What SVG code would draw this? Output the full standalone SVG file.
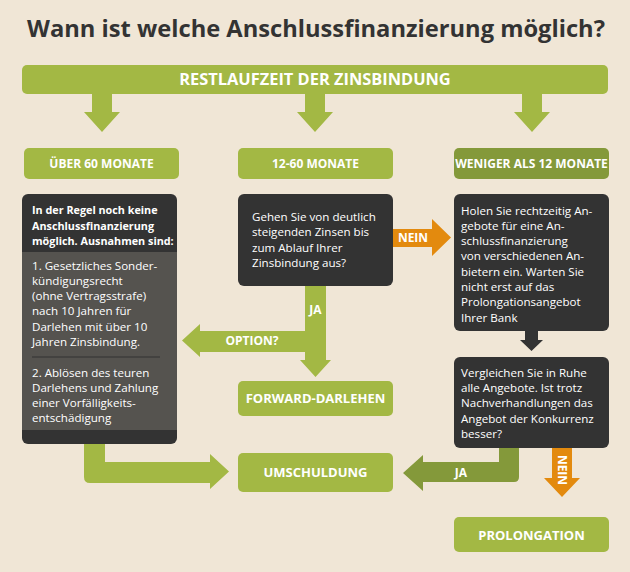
<svg xmlns="http://www.w3.org/2000/svg" width="630" height="572" viewBox="0 0 630 572">
<style>
.title{font-family:"Open Sans","Liberation Sans",sans-serif;font-weight:bold;font-size:23.7px;fill:#333333}
.hd{font-family:"Open Sans","Liberation Sans",sans-serif;font-weight:bold;font-size:12px;fill:#ffffff;text-anchor:middle}
.big{font-family:"Open Sans","Liberation Sans",sans-serif;font-weight:bold;font-size:13px;fill:#ffffff;text-anchor:middle}
.bar{font-family:"Open Sans","Liberation Sans",sans-serif;font-weight:bold;font-size:16.4px;fill:#ffffff;text-anchor:middle}
.bd{font-family:"Open Sans","Liberation Sans",sans-serif;font-size:11.6px;fill:#ffffff}
.bdb{font-family:"Open Sans","Liberation Sans",sans-serif;font-weight:bold;font-size:10.8px;fill:#ffffff}
.lbl{font-family:"Open Sans","Liberation Sans",sans-serif;font-weight:bold;font-size:12px;fill:#ffffff;text-anchor:middle}
.g{fill:#a3b844}
.dg{fill:#84993a}
.dk{fill:#333333}
.or{fill:#e38a0e}
</style>
<rect width="630" height="572" fill="#f0e6d6"/>
<text class="title" x="316" y="37" text-anchor="middle">Wann ist welche Anschlussfinanzierung möglich?</text>

<g id="connectors">
  <polygon class="g" points="92,92 112,92 112,112 120,112 102,132 84,112 92,112"/>
  <polygon class="g" points="305,92 325,92 325,112 333,112 315,132 297,112 305,112"/>
  <polygon class="g" points="522,92 542,92 542,112 550,112 532,132 514,112 522,112"/>
  <polygon class="or" points="393,229 432,229 432,219 451,237.5 432,256 432,247 393,247"/>
  <text class="lbl" x="413" y="242">NEIN</text>
  <polygon class="g" points="305,286 326,286 326,360 331,360 315.5,377 300,360 305,360 305,352 200,352 200,357 182,340.5 200,324 200,331 305,331"/>
  <text class="lbl" x="315.5" y="314">JA</text>
  <text class="lbl" x="252" y="345">OPTION?</text>
  <polygon class="dk" points="525,330 538,330 538,340 543,340 531.5,351 520,340 525,340"/>
  <path class="dg" d="M499,447 L519,447 L519,477 Q519,482 514,482 L423,482 L423,491 L403,473 L423,455 L423,462 L499,462 Z"/>
  <text class="lbl" x="461" y="477">JA</text>
  <polygon class="or" points="552,447 572,447 572,478 580,478 562,497 544,478 552,478"/>
  <text class="lbl" transform="translate(562,470) rotate(90)" x="0" y="4">NEIN</text>
  <path class="g" d="M84,443 L105,443 L105,462 L210,462 L210,454 L229,471.5 L210,489 L210,483 L90,483 Q84,483 84,477 Z"/>
</g>

<g id="bar">
  <rect class="g" x="22" y="65" width="586" height="29" rx="5"/>
  <text class="bar" x="315" y="85">RESTLAUFZEIT DER ZINSBINDUNG</text>
</g>

<g id="h-ueber60">
  <rect class="g" x="24" y="148" width="155" height="31" rx="5"/>
  <text class="hd" x="101.5" y="168">ÜBER 60 MONATE</text>
</g>
<g id="h-12-60">
  <rect class="g" x="238" y="148" width="155" height="31" rx="5"/>
  <text class="hd" x="315.5" y="168">12-60 MONATE</text>
</g>
<g id="h-weniger12">
  <rect class="dg" x="454" y="148" width="155" height="31" rx="5"/>
  <text class="hd" x="531.5" y="168">WENIGER ALS 12 MONATE</text>
</g>

<g id="left-box">
  <rect class="dk" x="22" y="194" width="155" height="250" rx="6"/>
  <rect x="22" y="252" width="155" height="178" fill="#55534f"/>
  <line x1="32" y1="357" x2="160" y2="357" stroke="#333333" stroke-width="1"/>
  <text class="bdb" x="32" y="214">In der Regel noch keine</text>
  <text class="bdb" x="32" y="229.5">Anschlussfinanzierung</text>
  <text class="bdb" x="32" y="245">möglich. Ausnahmen sind:</text>
  <text class="bd" x="32" y="269.5">1. Gesetzliches Sonder-</text>
  <text class="bd" x="32" y="284.8">kündigungsrecht</text>
  <text class="bd" x="32" y="300.1">(ohne Vertragsstrafe)</text>
  <text class="bd" x="32" y="315.4">nach 10 Jahren für</text>
  <text class="bd" x="32" y="330.7">Darlehen mit über 10</text>
  <text class="bd" x="32" y="346">Jahren Zinsbindung.</text>
  <text class="bd" x="32" y="376.5">2. Ablösen des teuren</text>
  <text class="bd" x="32" y="391.8">Darlehens und Zahlung</text>
  <text class="bd" x="32" y="407.1">einer Vorfälligkeits-</text>
  <text class="bd" x="32" y="422.4">entschädigung</text>
</g>

<g id="mid-box">
  <rect class="dk" x="238" y="194" width="155" height="92" rx="6"/>
  <text class="bd" x="252" y="220.5">Gehen Sie von deutlich</text>
  <text class="bd" x="252" y="236">steigenden Zinsen bis</text>
  <text class="bd" x="252" y="251.5">zum Ablauf Ihrer</text>
  <text class="bd" x="252" y="267">Zinsbindung aus?</text>
</g>

<g id="right-box">
  <rect class="dk" x="454" y="194" width="155" height="137" rx="6"/>
  <text class="bd" x="461" y="214.5">Holen Sie rechtzeitig An-</text>
  <text class="bd" x="461" y="229.8">gebote für eine An-</text>
  <text class="bd" x="461" y="245.1">schlussfinanzierung</text>
  <text class="bd" x="461" y="260.4">von verschiedenen An-</text>
  <text class="bd" x="461" y="275.7">bietern ein. Warten Sie</text>
  <text class="bd" x="461" y="291">nicht erst auf das</text>
  <text class="bd" x="461" y="306.3">Prolongationsangebot</text>
  <text class="bd" x="461" y="321.6">Ihrer Bank</text>
</g>

<g id="compare-box">
  <rect class="dk" x="454" y="357" width="155" height="91" rx="6"/>
  <text class="bd" x="461" y="376.5">Vergleichen Sie in Ruhe</text>
  <text class="bd" x="461" y="391.9">alle Angebote. Ist trotz</text>
  <text class="bd" x="461" y="407.3">Nachverhandlungen das</text>
  <text class="bd" x="461" y="422.7">Angebot der Konkurrenz</text>
  <text class="bd" x="461" y="438.1">besser?</text>
</g>

<g id="forward">
  <rect class="g" x="238" y="381" width="155" height="35" rx="5"/>
  <text class="big" x="315.5" y="403">FORWARD-DARLEHEN</text>
</g>
<g id="umschuldung">
  <rect class="g" x="238" y="453" width="155" height="39" rx="5"/>
  <text class="big" x="315.5" y="477">UMSCHULDUNG</text>
</g>
<g id="prolongation">
  <rect class="g" x="454" y="517" width="155" height="35" rx="5"/>
  <text class="big" x="531.5" y="539.5">PROLONGATION</text>
</g>
</svg>
